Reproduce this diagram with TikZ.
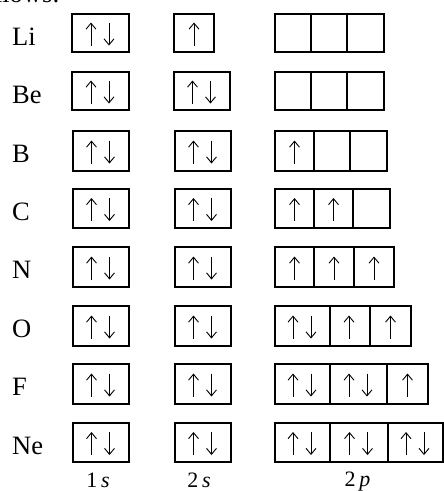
\documentclass[tikz,border=0pt]{standalone}
\usepackage{fontspec}
\setmainfont{Liberation Serif}
\usetikzlibrary{arrows.meta}
\tikzset{
  cellbox/.style={draw, line width=1.1pt, inner sep=0pt, outer sep=0pt},
  spin/.style={line width=0.9pt, -{Straight Barb[length=6pt,width=10pt]}},
  lab/.style={font=\fontsize{26.5}{30}\selectfont, inner sep=0pt, anchor=base west},
  sublab/.style={font=\fontsize{22}{26}\selectfont, inner sep=0pt, anchor=base},
}
% cell: name, x1, x2, y1, y2
\newcommand\cellat[5]{\node[cellbox, minimum width={#3pt-#2pt}, minimum height={#5pt-#4pt}] (#1) at ({(#2+#3)/2},{(#4+#5)/2}) {};}
% arrows: x, row centre
\newcommand\spinup[2]{\draw[spin] (#1,#2+12.5) -- (#1,#2-10.5);}
\newcommand\spindn[2]{\draw[spin] (#1,#2-10.5) -- (#1,#2+12.5);}
\newcommand\spinpair[2]{\spinup{#1-9.5}{#2}\spindn{#1+8.5}{#2}}
\begin{document}
\begin{tikzpicture}[x=1pt,y=-1pt]
\useasboundingbox (0,0) rectangle (444,491);
\node[lab, anchor=base east] (cut) at (60,2) {follows:};
% Li
\node[lab] (tLi) at (12,45) {Li};
\cellat{Li1}{72}{129}{14}{52} \spinpair{100.5}{33}
\cellat{Li2}{174}{214}{14}{52} \spinup{194}{33}
\cellat{Lia}{275}{311}{14}{52}
\cellat{Lib}{311}{347}{14}{52}
\cellat{Lic}{347}{384}{14}{52}
% Be
\node[lab] (tBe) at (12,103) {Be};
\cellat{Be1}{72}{129}{72}{110} \spinpair{100.5}{91}
\cellat{Be2}{174}{230}{72}{110} \spinpair{202}{91}
\cellat{Bea}{275}{311}{72}{110}
\cellat{Beb}{311}{347}{72}{110}
\cellat{Bec}{347}{384}{72}{110}
% B
\node[lab] (tB) at (12,162) {B};
\cellat{B1}{73}{129}{131}{171} \spinpair{101}{151}
\cellat{B2}{175}{231}{131}{171} \spinpair{203}{151}
\cellat{Ba}{275}{314}{131}{171} \spinup{294.5}{151}
\cellat{Bb}{314}{350}{131}{171}
\cellat{Bc}{350}{387}{131}{171}
% C
\node[lab] (tC) at (12,220) {C};
\cellat{C1}{73}{129}{189}{228} \spinpair{101}{208.5}
\cellat{C2}{175}{231}{189}{228} \spinpair{203}{208.5}
\cellat{Ca}{275}{314}{189}{228} \spinup{294.5}{208.5}
\cellat{Cb}{314}{353}{189}{228} \spinup{333.5}{208.5}
\cellat{Cc}{353}{390}{189}{228}
% N
\node[lab] (tN) at (12,278) {N};
\cellat{N1}{73}{129}{247}{287} \spinpair{101}{267}
\cellat{N2}{175}{231}{247}{287} \spinpair{203}{267}
\cellat{Na}{275}{314}{247}{287} \spinup{294.5}{267}
\cellat{Nb}{314}{354}{247}{287} \spinup{334}{267}
\cellat{Nc}{354}{394}{247}{287} \spinup{374}{267}
% O
\node[lab] (tO) at (12,337) {O};
\cellat{O1}{73}{129}{306}{346} \spinpair{101}{326}
\cellat{O2}{175}{231}{306}{346} \spinpair{203}{326}
\cellat{Oa}{275}{330}{306}{346} \spinpair{302.5}{326}
\cellat{Ob}{330}{370}{306}{346} \spinup{349}{326}
\cellat{Oc}{370}{411}{306}{346} \spinup{390.5}{326}
% F
\node[lab] (tF) at (12,395) {F};
\cellat{F1}{73}{129}{364}{404} \spinpair{101}{384}
\cellat{F2}{175}{231}{364}{404} \spinpair{203}{384}
\cellat{Fa}{275}{330}{364}{404} \spinpair{302.5}{384}
\cellat{Fb}{330}{387}{364}{404} \spinpair{358.5}{384}
\cellat{Fc}{387}{428}{364}{404} \spinup{407.5}{384}
% Ne
\node[lab] (tNe) at (12,454) {Ne};
\cellat{Ne1}{73}{129}{423}{462} \spinpair{101}{442.5}
\cellat{Ne2}{175}{231}{423}{462} \spinpair{203}{442.5}
\cellat{Nea}{275}{330}{423}{462} \spinpair{302.5}{442.5}
\cellat{Neb}{330}{388}{423}{462} \spinpair{359}{442.5}
\cellat{Nec}{388}{443}{423}{462} \spinpair{415.5}{442.5}
% subshell labels
\node[sublab] (s1) at (98,487) {1\,\textit{s}};
\node[sublab] (s2) at (199,487) {2\,\textit{s}};
\node[sublab] (p2) at (357.5,486) {2\,\textit{p}};
\end{tikzpicture}
\end{document}
